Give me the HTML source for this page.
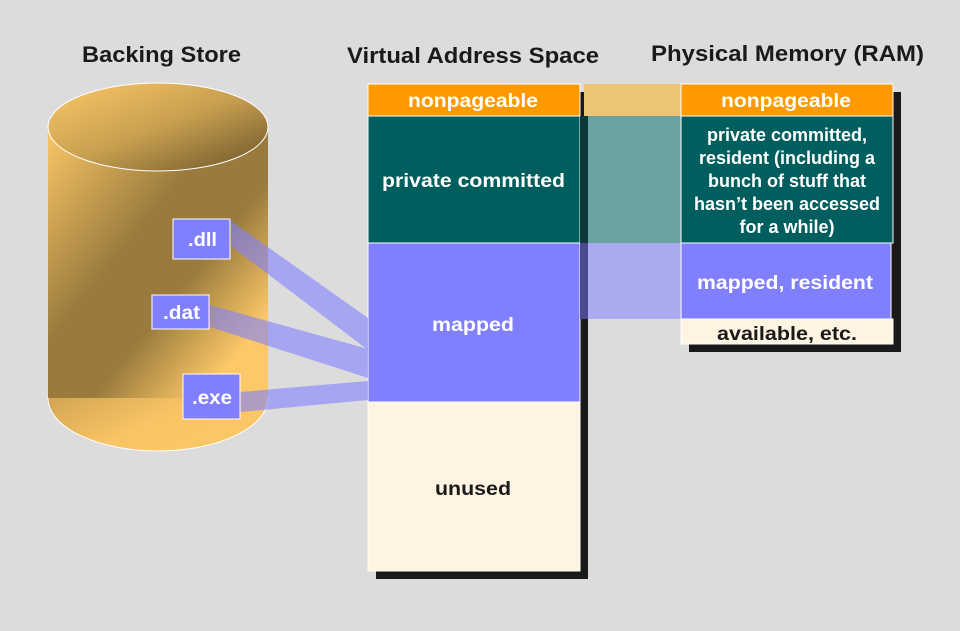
<!DOCTYPE html>
<html><head><meta charset="utf-8"><style>
body{margin:0;background:#dcdcdc;}
svg{display:block;font-family:"Liberation Sans",Arial,sans-serif;font-weight:bold;}
</style></head><body>
<svg width="960" height="631" viewBox="0 0 960 631">
<defs>
<linearGradient id="cyl" x1="0" y1="0" x2="1" y2="1" gradientUnits="objectBoundingBox">
<stop offset="0" stop-color="#fcc868"/>
<stop offset="0.4" stop-color="#9a7b3d"/>
<stop offset="0.6" stop-color="#9a7b3d"/>
<stop offset="0.85" stop-color="#fcc868"/>
<stop offset="1" stop-color="#fcc868"/>
</linearGradient>
<linearGradient id="top" x1="0" y1="0" x2="1" y2="1">
<stop offset="0" stop-color="#fcc868"/>
<stop offset="0.5" stop-color="#c8a050"/>
<stop offset="1" stop-color="#6a5228"/>
</linearGradient>
<linearGradient id="bot" x1="0" y1="0" x2="1" y2="1">
<stop offset="0" stop-color="#b89048"/>
<stop offset="0.6" stop-color="#f8c464"/>
<stop offset="1" stop-color="#fcc868"/>
</linearGradient>
</defs>
<g font-size="22" fill="#1a1a1a">
<text x="82" y="62" textLength="159" lengthAdjust="spacingAndGlyphs">Backing Store</text>
<text x="347" y="63" textLength="252" lengthAdjust="spacingAndGlyphs">Virtual Address Space</text>
<text x="651" y="61" textLength="273" lengthAdjust="spacingAndGlyphs">Physical Memory (RAM)</text>
</g>

<ellipse cx="158" cy="398" rx="110" ry="53" fill="url(#bot)" stroke="#fff" stroke-width="1"/>
<rect x="48" y="127" width="220" height="271" fill="url(#cyl)"/>
<ellipse cx="158" cy="127" rx="110" ry="44" fill="url(#top)" stroke="#fff" stroke-width="1"/>

<rect x="376" y="92" width="212" height="487" fill="#1a1a1a"/>
<rect x="689" y="92" width="212" height="260" fill="#1a1a1a"/>

<rect x="368" y="84" width="212" height="32" fill="#fe9a00" stroke="#fff"/>
<rect x="368" y="116" width="212" height="127" fill="#005e5e" stroke="#fff"/>
<rect x="368" y="243" width="212" height="159" fill="#8080ff" stroke="#fff"/>
<rect x="368" y="402" width="212" height="169" fill="#fff4e2" stroke="#fff"/>
<g font-size="19">
<text x="408" y="107" textLength="130" lengthAdjust="spacingAndGlyphs" fill="#fff">nonpageable</text>
<text x="382" y="187" textLength="183" lengthAdjust="spacingAndGlyphs" fill="#fff">private committed</text>
<text x="432" y="331" textLength="82" lengthAdjust="spacingAndGlyphs" fill="#fff">mapped</text>
<text x="435" y="495" textLength="76" lengthAdjust="spacingAndGlyphs" fill="#1a1a1a">unused</text>
</g>

<rect x="584" y="84" width="97" height="32" fill="#ebc475"/>
<rect x="580" y="116" width="101" height="127" fill="#6ba2a2"/>
<rect x="580" y="243" width="101" height="76" fill="#aaaaee"/>
<rect x="580" y="116" width="8" height="127" fill="#0e3838"/>
<rect x="580" y="243" width="8" height="76" fill="#4a4a90"/>

<rect x="681" y="84" width="212" height="32" fill="#fe9a00" stroke="#fff"/>
<rect x="681" y="116" width="212" height="127" fill="#005e5e" stroke="#fff"/>
<rect x="681" y="243" width="210" height="76" fill="#8080ff" stroke="#fff"/>
<rect x="681" y="319" width="212" height="25" fill="#fff4e2" stroke="#fff"/>
<g font-size="19">
<text x="721" y="107" textLength="130" lengthAdjust="spacingAndGlyphs" fill="#fff">nonpageable</text>
</g>
<g font-size="18" fill="#fff" text-anchor="middle">
<text x="787" y="141">private committed,</text>
<text x="787" y="164">resident (including a</text>
<text x="787" y="187">bunch of stuff that</text>
<text x="787" y="210">hasn’t been accessed</text>
<text x="787" y="233">for a while)</text>
</g>
<g font-size="19">
<text x="697" y="289" textLength="176" lengthAdjust="spacingAndGlyphs" fill="#fff">mapped, resident</text>
<text x="717" y="340" textLength="140" lengthAdjust="spacingAndGlyphs" fill="#1a1a1a">available, etc.</text>
</g>

<g fill="#8080ff" fill-opacity="0.6">
<polygon points="231,221 231,246 368,350 368,318"/>
<polygon points="210,305 210,327 368,378 368,349"/>
<polygon points="240,392 240,412 368,400 368,381"/>
</g>

<g stroke="#fff" fill="#8080ff">
<rect x="173" y="219" width="57" height="40"/>
<rect x="152" y="295" width="57" height="34"/>
<rect x="183" y="374" width="57" height="45"/>
</g>
<g font-size="19" fill="#fff">
<text x="188" y="246" textLength="29" lengthAdjust="spacingAndGlyphs">.dll</text>
<text x="163" y="319" textLength="37" lengthAdjust="spacingAndGlyphs">.dat</text>
<text x="192" y="404" textLength="40" lengthAdjust="spacingAndGlyphs">.exe</text>
</g>
</svg>
</body></html>
